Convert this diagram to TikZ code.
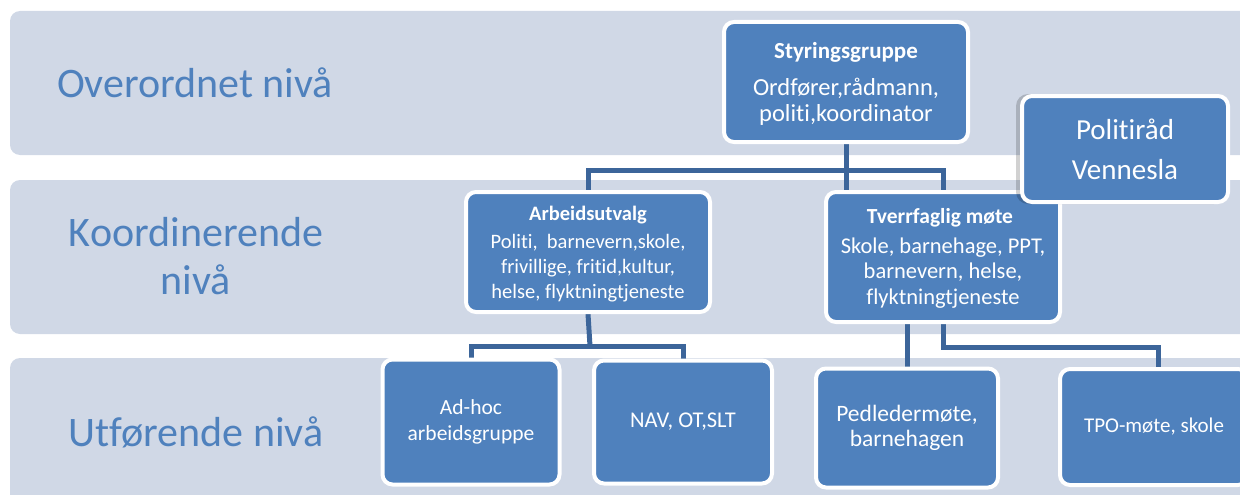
\documentclass[tikz,border=0pt]{standalone}
\usepackage{fontspec}
\setmainfont{Carlito}[Ligatures=NoCommon]
\definecolor{band}{HTML}{D0D8E6}
\definecolor{boxblue}{HTML}{4F81BD}
\definecolor{conn}{HTML}{3C659A}
\definecolor{lbl}{HTML}{4F81BD}
\pgfdeclarelayer{bg}
\pgfdeclarelayer{lines}
\pgfsetlayers{bg,lines,main}
\begin{document}
\begin{tikzpicture}[x=1pt,y=-1pt,
  bandbox/.style={fill=band, rounded corners=10pt},
  box/.style={draw=white, line width=4pt, fill=boxblue, rounded corners=10pt, inner sep=0pt},
  lvl/.style={text=lbl, font=\fontsize{42}{48}\selectfont, align=center},
  ttl/.style={text=white, font=\bfseries\fontsize{23}{26}\selectfont},
  txt/.style={text=white, align=center},
  conline/.style={draw=conn, line width=5pt}]
\useasboundingbox (0,0) rectangle (1240,495);
\begin{pgfonlayer}{bg}
\fill[bandbox] (10,11) rectangle (1270,155);
\fill[bandbox] (10,180) rectangle (1270,334);
\fill[bandbox] (10,358) rectangle (1270,520);
\end{pgfonlayer}
% level labels
\node[lvl] (l1) at (195,83) {Overordnet nivå};
\node[lvl] (l2) at (196,256) {Koordinerende\\nivå};
\node[lvl] (l3) at (196,432) {Utførende nivå};
% boxes
\node[box, minimum width=244pt, minimum height=120pt] (sg) at (846,82) {};
\node[ttl] (sgT) at (846,52) {Styringsgruppe};
\node[txt, font=\fontsize{24.5}{26}\selectfont] (sgB) at (846,102) {Ordfører,rådmann,\\politi,koordinator};
\node[box, minimum width=244pt, minimum height=120pt] (au) at (588,252) {};
\node[ttl, font=\bfseries\fontsize{20.5}{22}\selectfont] (auT) at (588,215) {Arbeidsutvalg};
\node[txt, font=\fontsize{20.5}{25}\selectfont] (auB) at (588,268) {Politi,\ \ barnevern,skole,\\frivillige, fritid,kultur,\\helse, flyktningtjeneste};
\node[box, minimum width=234pt, minimum height=130pt] (tv) at (943,257) {};
\node[ttl, font=\bfseries\fontsize{21.5}{24}\selectfont] (tvT) at (940,218) {Tverrfaglig møte};
\node[txt, font=\fontsize{22.5}{25.5}\selectfont] (tvB) at (943,273) {Skole, barnehage, PPT,\\barnevern, helse,\\flyktningtjeneste};
\node[box, minimum width=177pt, minimum height=125pt, txt, font=\fontsize{21.5}{26}\selectfont] (ah) at (471,422) {Ad-hoc\\arbeidsgruppe};
\node[box, minimum width=178pt, minimum height=123pt, txt, font=\fontsize{22.5}{26}\selectfont] (nav) at (683,422) {NAV, OT,SLT};
\node[box, minimum width=182pt, minimum height=119pt, txt, font=\fontsize{23.5}{25}\selectfont] (pm) at (907,428) {Pedledermøte,\\barnehagen};
\node[box, minimum width=188pt, minimum height=116pt, txt, font=\fontsize{21}{24}\selectfont] (tpo) at (1154,427) {TPO-møte, skole};
% connectors
\coordinate (j1) at (846,170);
\coordinate (j2) at (590,346);
\coordinate (j3) at (1158,347);
\begin{pgfonlayer}{lines}
\draw[conline] (sg.south) -- (sg.south |- tv.north);
\draw[conline] (au.north) |- (j1) -| (tv.north);
\draw[conline] (au.south) -- (j2);
\draw[conline] (ah.north) |- (j2) -| (nav.north);
\draw[conline] (pm.north) -- (pm.north |- tv.south);
\draw[conline] (tv.south) |- (j3) -- (j3 |- tpo.north);
\end{pgfonlayer}
% Politirad
\fill[black, opacity=0.18, rounded corners=12pt] (1016,94) rectangle (1226,204);
\node[box, minimum width=206pt, minimum height=106pt, txt, font=\fontsize{29}{40}\selectfont] (pr) at (1125,149) {Politiråd\\Vennesla};
\end{tikzpicture}
\end{document}
